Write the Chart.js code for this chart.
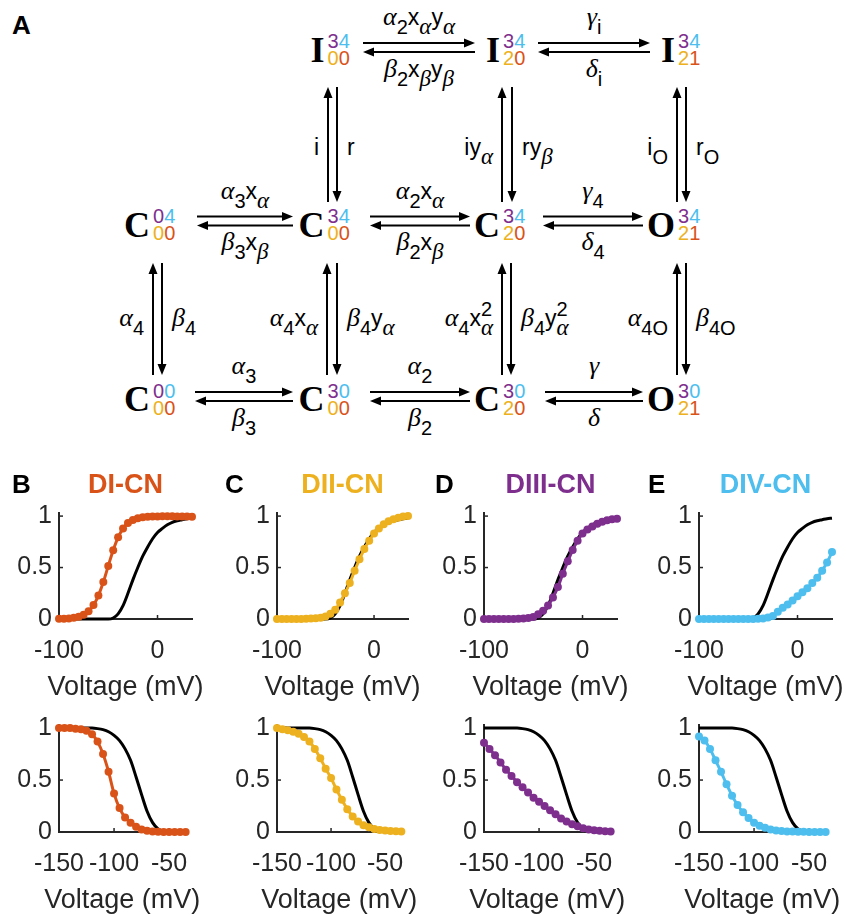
<!DOCTYPE html>
<html>
<head>
<meta charset="utf-8">
<script src="https://cdn.jsdelivr.net/npm/chart.js@4.4.1/dist/chart.umd.min.js"></script>
<style>
  body { margin: 0; background: #fff; width: 846px; height: 915px; position: relative; overflow: hidden; }
  canvas { position: absolute; }
  #scheme { position: absolute; left: 0; top: 0; }
  .letter { position: absolute; font: bold 26px 'Liberation Sans', Arial, sans-serif; color: #000; line-height: 30px; }
  .ttl { position: absolute; font: bold 27px 'Liberation Sans', Arial, sans-serif; line-height: 30px; transform: translateX(-50%); white-space: nowrap; }
</style>
</head>
<body>
<svg id="scheme" width="846" height="440"></svg>
<div class="letter" style="left:12px;top:10px">A</div>
<script>
// voltages (mV)
const vAct = [-100, -95, -90, -85, -80, -75, -70, -65, -60, -55, -50, -45, -40, -35,
              -30, -25, -20, -15, -10, -5, 0, 5, 10, 15, 20, 25, 30, 35];
const vInact = [-150, -145, -140, -135, -130, -125, -120, -115, -110, -105, -100, -95,
                -90, -85, -80, -75, -70, -65, -60, -55, -50, -45, -40, -35];

// WT curves (black)
const wtAct = [0, 0, 0, 0, 0, 0, 0, 0, 0, 0, 0, 0.01, 0.05, 0.13,
               0.25, 0.38, 0.50, 0.61, 0.70, 0.78, 0.84, 0.88, 0.915, 0.94, 0.955, 0.965, 0.975, 0.98];
const wtInact = [1, 1, 1, 1, 1, 1, 1, 0.995, 0.985, 0.965, 0.93, 0.88,
                 0.80, 0.69, 0.53, 0.36, 0.20, 0.09, 0.03, 0.008, 0.002, 0, 0, 0];

// mutant activation
const diAct = [0.002, 0.003, 0.006, 0.012, 0.022, 0.041, 0.076, 0.135, 0.228, 0.359, 0.516, 0.669, 0.794, 0.879,
               0.933, 0.963, 0.980, 0.989, 0.994, 0.996, 0.997, 0.998, 0.998, 0.998, 0.997, 0.996, 0.995, 0.993];
const diiAct = [0, 0, 0, 0, 0, 0.001, 0.002, 0.004, 0.007, 0.013, 0.025, 0.05, 0.09, 0.16,
                0.25, 0.35, 0.47, 0.58, 0.68, 0.76, 0.83, 0.88, 0.92, 0.95, 0.97, 0.985, 0.995, 1.0];
const diiiAct = [0, 0, 0, 0, 0, 0, 0.001, 0.002, 0.004, 0.009, 0.02, 0.045, 0.08, 0.13,
                 0.21, 0.31, 0.44, 0.56, 0.67, 0.76, 0.83, 0.87, 0.90, 0.925, 0.945, 0.96, 0.97, 0.975];
const divAct = [0, 0, 0, 0, 0, 0, 0, 0, 0, 0, 0, 0, 0.002, 0.006,
                0.015, 0.03, 0.07, 0.11, 0.14, 0.18, 0.22, 0.26, 0.30, 0.35, 0.40, 0.47, 0.55, 0.65];

// mutant inactivation
const diInact = [1, 1, 1, 0.995, 0.99, 0.975, 0.94, 0.87, 0.75, 0.58, 0.37, 0.23,
                 0.14, 0.09, 0.05, 0.025, 0.012, 0.006, 0.003, 0.001, 0, 0, 0, 0];
const diiInact = [1.0, 0.99, 0.98, 0.965, 0.945, 0.915, 0.87, 0.80, 0.71, 0.61, 0.52, 0.41,
                  0.31, 0.22, 0.15, 0.10, 0.065, 0.045, 0.03, 0.02, 0.015, 0.01, 0.008, 0.006];
const diiiInact = [0.86, 0.80, 0.74, 0.67, 0.60, 0.54, 0.48, 0.43, 0.38, 0.33, 0.29, 0.25,
                   0.21, 0.17, 0.13, 0.10, 0.075, 0.055, 0.035, 0.025, 0.017, 0.012, 0.008, 0.006];
const divInact = [0.92, 0.88, 0.80, 0.69, 0.58, 0.46, 0.35, 0.26, 0.19, 0.135, 0.09, 0.06,
                  0.04, 0.025, 0.015, 0.01, 0.006, 0.004, 0.003, 0.002, 0.001, 0.001, 0.001, 0.001];

// tick labels
const xTicksAct = [-100, 0];
const xTicksInact = [-150, -100, -50];
const yTicks = [0, 0.5, 1];
const xTitle = 'Voltage (mV)';

const panelLetters = ['B', 'C', 'D', 'E'];
const panelTitles = ['DI-CN', 'DII-CN', 'DIII-CN', 'DIV-CN'];

const C_DI = '#D95319', C_DII = '#EDB120', C_DIII = '#7E2F8E', C_DIV = '#4DBEEE';
const AX = '#262626';
const FONT = "'Liberation Sans', Arial, sans-serif";

// ---------- panel A : kinetic scheme (svg) ----------
const NS = 'http://www.w3.org/2000/svg';
const svg = document.getElementById('scheme');
const mctx = document.createElement('canvas').getContext('2d');

function add(tag, attrs, parent) {
  const e = document.createElementNS(NS, tag);
  for (const k in attrs) e.setAttribute(k, attrs[k]);
  (parent || svg).appendChild(e);
  return e;
}

function arrow(x1, y1, x2, y2) {
  const len = Math.hypot(x2 - x1, y2 - y1), ux = (x2 - x1) / len, uy = (y2 - y1) / len;
  const hl = 11, hw = 4.5;
  add('line', {x1, y1, x2: x2 - ux * (hl - 2), y2: y2 - uy * (hl - 2), stroke: '#000', 'stroke-width': 2});
  const bx = x2 - ux * hl, by = y2 - uy * hl;
  add('polygon', {points: `${x2},${y2} ${bx - uy * hw},${by + ux * hw} ${bx + uy * hw},${by - ux * hw}`, fill: '#000'});
}
function hpair(x1, x2, y) { arrow(x1, y - 4.5, x2, y - 4.5); arrow(x2, y + 4.5, x1, y + 4.5); }
function vpair(xUp, xDown, y1, y2) { arrow(xUp, y2, xUp, y1); arrow(xDown, y1, xDown, y2); }

function parse(str) {
  const out = [];
  let i = 0;
  while (i < str.length) {
    const c = str[i];
    if (c === '_' || c === '^') {
      let s;
      if (str[i + 1] === '{') { const j = str.indexOf('}', i); s = str.slice(i + 2, j); i = j + 1; }
      else { s = str[i + 1]; i += 2; }
      out.push({t: c === '_' ? 'sub' : 'sup', s});
    } else { out.push({t: 'main', s: c}); i++; }
  }
  return out;
}

function tex(x, y, str, anchor) {
  const t = add('text', {x, y, 'text-anchor': anchor || 'middle', fill: '#000'});
  let shift = 0, prev = null;
  parse(str).forEach(tok => {
    const target = tok.t === 'sub' ? 9 : tok.t === 'sup' ? -10 : 0;
    const size = tok.t === 'main' ? 23 : 20;
    const dx = (prev && prev.t !== 'main' && tok.t !== 'main' && prev.t !== tok.t) ? -prev.w : 0;
    let w = 0;
    [...tok.s].forEach((ch, k) => {
      const greek = 'αβγδ'.includes(ch);
      const fam = greek ? "'Liberation Serif'" : "'Liberation Sans'";
      const sty = greek ? 'italic' : 'normal';
      const fs = greek ? size + 3 : size;
      const sp = add('tspan', {'font-family': fam, 'font-style': sty, 'font-size': fs}, t);
      if (k === 0) { sp.setAttribute('dy', target - shift); if (dx) sp.setAttribute('dx', dx); }
      sp.textContent = ch;
      mctx.font = `${sty} ${fs}px ${fam}`;
      w += mctx.measureText(ch).width;
    });
    shift = target;
    prev = {t: tok.t, w};
  });
}

function digits(x, y, s, colors) {
  const t = add('text', {x, y, 'font-family': "'Liberation Sans'", 'font-size': 20});
  [...s].forEach((ch, k) => { add('tspan', {fill: colors[k]}, t).textContent = ch; });
}
function state(dl, cy, letter, sup, sub) {
  add('text', {x: dl - 3, y: cy + 13, 'text-anchor': 'end', 'font-family': "'Liberation Serif'",
               'font-weight': 'bold', 'font-size': 36}).textContent = letter;
  digits(dl, cy - 0.5, sup, [C_DIII, C_DIV]);
  digits(dl, cy + 16.5, sub, [C_DII, C_DI]);
}

const dl = [153, 327.5, 503, 678];
const ry = [48.5, 223.5, 398];
state(dl[1], ry[0], 'I', '34', '00');
state(dl[2], ry[0], 'I', '34', '20');
state(dl[3], ry[0], 'I', '34', '21');
state(dl[0], ry[1], 'C', '04', '00');
state(dl[1], ry[1], 'C', '34', '00');
state(dl[2], ry[1], 'C', '34', '20');
state(dl[3], ry[1], 'O', '34', '21');
state(dl[0], ry[2], 'C', '00', '00');
state(dl[1], ry[2], 'C', '30', '00');
state(dl[2], ry[2], 'C', '30', '20');
state(dl[3], ry[2], 'O', '30', '21');

const hRows = [
  {y: 47.5, seg: [[363, 475, 'α_2x_αy_α', 'β_2x_βy_β'], [538, 650, 'γ_i', 'δ_i']]},
  {y: 221, seg: [[197, 293, 'α_3x_α', 'β_3x_β'], [370, 470, 'α_2x_α', 'β_2x_β'], [543, 643, 'γ_4', 'δ_4']]},
  {y: 396.5, seg: [[195, 293, 'α_3', 'β_3'], [370, 470, 'α_2', 'β_2'], [545, 643, 'γ', 'δ']]}
];
hRows.forEach(r => r.seg.forEach(([a, b, up, dn]) => {
  hpair(a, b, r.y);
  tex((a + b) / 2, r.y - 22.5, up);
  tex((a + b) / 2, r.y + 29, dn);
}));

const vCols = [
  {y1: 87, y2: 202, lab: 155, seg: [[328, 337, 'i', 'r'], [502, 512, 'iy_α', 'ry_β'], [677, 686, 'i_O', 'r_O']]},
  {y1: 263, y2: 375, lab: 326, seg: [[153, 162, 'α_4', 'β_4'], [327, 337, 'α_4x_α', 'β_4y_α'],
                                     [502, 511, 'α_4x^2_α', 'β_4y^2_α'], [677, 686, 'α_{4O}', 'β_{4O}']]}
];
vCols.forEach(c => c.seg.forEach(([xu, xd, lt, rt]) => {
  vpair(xu, xd, c.y1, c.y2);
  tex(xu - 9, c.lab, lt, 'end');
  tex(xd + 10, c.lab, rt, 'start');
}));

// ---------- panels B-E : Chart.js ----------
const cols = [[59, 192], [277, 408], [484, 617], [699, 832]];
const rows = [[503, 619], [715, 832]];
const PAD_L = 58, PAD_R = 14, PAD_T = 12, X_H = 87;

// inward tick marks + axis title drawn without the chart-area width limit
const axisDeco = {
  id: 'axisDeco',
  beforeDatasetsDraw(chart) {
    const {ctx, scales: {x, y}, chartArea: a} = chart;
    ctx.save();
    ctx.strokeStyle = AX;
    ctx.lineWidth = 1.5;
    x.ticks.forEach(t => {
      const p = x.getPixelForValue(t.value);
      ctx.beginPath(); ctx.moveTo(p, a.bottom); ctx.lineTo(p, a.bottom - 4); ctx.stroke();
    });
    y.ticks.forEach(t => {
      const p = y.getPixelForValue(t.value);
      ctx.beginPath(); ctx.moveTo(a.left, p); ctx.lineTo(a.left + 4, p); ctx.stroke();
    });
    ctx.fillStyle = AX;
    ctx.font = `27px ${FONT}`;
    ctx.textAlign = 'center';
    ctx.textBaseline = 'middle';
    ctx.fillText(xTitle, (a.left + a.right) / 2, a.bottom + 69);
    ctx.restore();
  }
};

function makeChart(ci, ri, xs, wt, mut, color, xMin, xMax, xTicks) {
  const [L, R] = cols[ci], [T, B] = rows[ri];
  const cv = document.createElement('canvas');
  cv.width = (R - L) + PAD_L + PAD_R;
  cv.height = (B - T) + PAD_T + X_H;
  cv.style.left = (L - PAD_L) + 'px';
  cv.style.top = (T - PAD_T) + 'px';
  document.body.appendChild(cv);

  new Chart(cv.getContext('2d'), {
    type: 'line',
    data: {
      datasets: [
        {
          data: xs.map((v, i) => ({x: v, y: mut[i]})),
          borderColor: color, backgroundColor: color, pointBackgroundColor: color,
          borderWidth: 3, pointRadius: 4, pointBorderWidth: 0,
          cubicInterpolationMode: 'monotone', clip: false, order: 0
        },
        {
          data: xs.map((v, i) => ({x: v, y: wt[i]})),
          borderColor: '#000', borderWidth: 3, pointRadius: 0,
          cubicInterpolationMode: 'monotone', clip: false, order: 1
        }
      ]
    },
    options: {
      responsive: false,
      animation: false,
      layout: {padding: {top: PAD_T, right: PAD_R, left: 0, bottom: 0}},
      plugins: {legend: {display: false}, tooltip: {enabled: false}},
      scales: {
        x: {
          type: 'linear', min: xMin, max: xMax,
          afterBuildTicks: s => { s.ticks = xTicks.map(v => ({value: v})); },
          afterFit: s => { s.height = X_H; },
          grid: {display: false, drawTicks: false},
          border: {color: AX, width: 2},
          ticks: {font: {size: 25, family: FONT}, color: AX, padding: 17, maxRotation: 0, autoSkip: false,
                  callback: v => String(v)}
        },
        y: {
          min: 0, max: 1.03,
          afterBuildTicks: s => { s.ticks = yTicks.map(v => ({value: v})); },
          afterFit: s => { s.width = PAD_L; },
          grid: {display: false, drawTicks: false},
          border: {color: AX, width: 2},
          ticks: {font: {size: 25, family: FONT}, color: AX, padding: 7, callback: v => String(v)}
        }
      }
    },
    plugins: [axisDeco]
  });
}

const colors = [C_DI, C_DII, C_DIII, C_DIV];
const acts = [diAct, diiAct, diiiAct, divAct];
const inacts = [diInact, diiInact, diiiInact, divInact];
const letterX = [12, 225, 435, 648];

for (let i = 0; i < 4; i++) {
  makeChart(i, 0, vAct, wtAct, acts[i], colors[i], -100, 35, xTicksAct);
  makeChart(i, 1, vInact, wtInact, inacts[i], colors[i], -150, -35, xTicksInact);

  const lt = document.createElement('div');
  lt.className = 'letter';
  lt.style.left = letterX[i] + 'px';
  lt.style.top = '469px';
  lt.textContent = panelLetters[i];
  document.body.appendChild(lt);

  const tt = document.createElement('div');
  tt.className = 'ttl';
  tt.style.left = ((cols[i][0] + cols[i][1]) / 2) + 'px';
  tt.style.top = '469px';
  tt.style.color = colors[i];
  tt.textContent = panelTitles[i];
  document.body.appendChild(tt);
}
</script>
</body>
</html>
